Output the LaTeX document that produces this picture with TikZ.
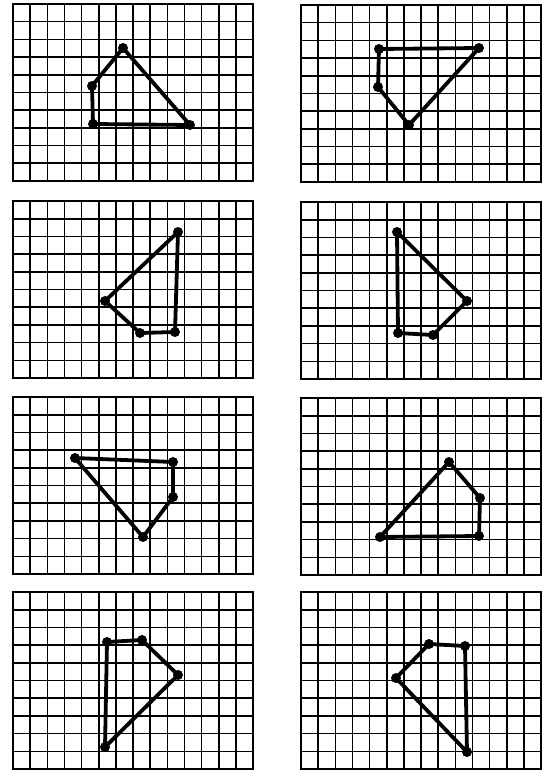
\documentclass[tikz,border=0pt]{standalone}
\usepackage{tikz}
\tikzset{gridline/.style={line width=1.6pt}}
\tikzset{frameline/.style={line width=1.9pt}}
\tikzset{figline/.style={line width=3.8pt,line join=round,line cap=round}}
\tikzset{vdot/.style={circle,fill,inner sep=0pt,minimum size=10pt}}
\newcommand{\gridpanel}[2]{%
  \foreach \i in {0,...,14} {
    \pgfmathsetmacro{\gx}{#1+\i*17.15}
    \draw[gridline] (\gx,#2) -- (\gx,{#2+177});
  }
  \foreach \j in {0,...,10} {
    \pgfmathsetmacro{\gy}{#2+\j*17.7}
    \draw[gridline] (#1,\gy) -- ({#1+240.1},\gy);
  }
  \draw[frameline] (#1,#2) rectangle ({#1+240.1},{#2+177});
}

\begin{document}
\begin{tikzpicture}[x=1pt,y=-1pt]
        \useasboundingbox (0,0) rectangle (548,778);
        \fill[white] (0,0) rectangle (548,778);
        \gridpanel{13}{4}
        \gridpanel{301}{5}
        \gridpanel{13}{201}
        \gridpanel{301}{202}
        \gridpanel{13}{397}
        \gridpanel{301}{398}
        \gridpanel{13}{592}
        \gridpanel{301}{592}
        \node[vdot] (a1) at (123,48) {};
        \node[vdot] (b1) at (92,86) {};
        \node[vdot] (c1) at (93,124) {};
        \node[vdot] (d1) at (190,125) {};
        \draw[figline] (a1.center) -- (d1.center) -- (c1.center) -- (b1.center) -- cycle;
        \node[vdot] (a2) at (379,49) {};
        \node[vdot] (b2) at (479,48) {};
        \node[vdot] (c2) at (409,125) {};
        \node[vdot] (d2) at (378,87) {};
        \draw[figline] (a2.center) -- (b2.center) -- (c2.center) -- (d2.center) -- cycle;
        \node[vdot] (a3) at (178,232) {};
        \node[vdot] (b3) at (105,301) {};
        \node[vdot] (c3) at (140,333) {};
        \node[vdot] (d3) at (175,332) {};
        \draw[figline] (a3.center) -- (b3.center) -- (c3.center) -- (d3.center) -- cycle;
        \node[vdot] (a4) at (397,232) {};
        \node[vdot] (b4) at (467,301) {};
        \node[vdot] (c4) at (433,335) {};
        \node[vdot] (d4) at (398,333) {};
        \draw[figline] (a4.center) -- (b4.center) -- (c4.center) -- (d4.center) -- cycle;
        \node[vdot] (a5) at (75,458) {};
        \node[vdot] (b5) at (173,462) {};
        \node[vdot] (c5) at (173,497) {};
        \node[vdot] (d5) at (143,537) {};
        \draw[figline] (a5.center) -- (b5.center) -- (c5.center) -- (d5.center) -- cycle;
        \node[vdot] (a6) at (449,462) {};
        \node[vdot] (b6) at (480,498) {};
        \node[vdot] (c6) at (479,536) {};
        \node[vdot] (d6) at (380,537) {};
        \draw[figline] (a6.center) -- (b6.center) -- (c6.center) -- (d6.center) -- cycle;
        \node[vdot] (a7) at (107,642) {};
        \node[vdot] (b7) at (142,640) {};
        \node[vdot] (c7) at (178,675) {};
        \node[vdot] (d7) at (105,747) {};
        \draw[figline] (a7.center) -- (b7.center) -- (c7.center) -- (d7.center) -- cycle;
        \node[vdot] (a8) at (429,644) {};
        \node[vdot] (b8) at (465,646) {};
        \node[vdot] (c8) at (467,752) {};
        \node[vdot] (d8) at (396,678) {};
        \draw[figline] (a8.center) -- (b8.center) -- (c8.center) -- (d8.center) -- cycle;
    \end{tikzpicture}
\end{document}
